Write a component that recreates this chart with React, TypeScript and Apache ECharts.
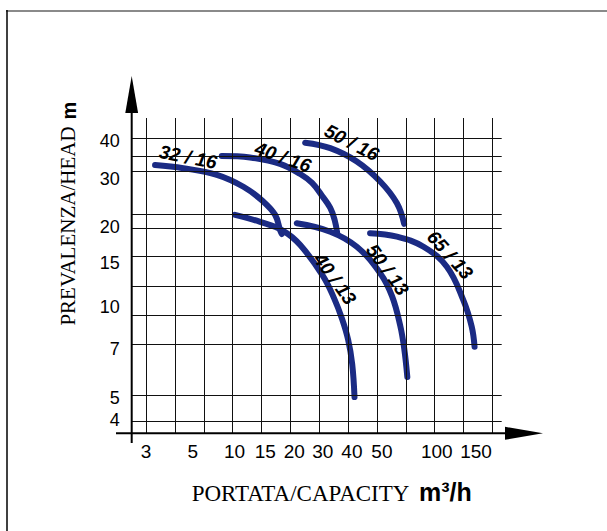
import React, { useEffect, useRef } from "react";
import * as echarts from "echarts";

// Grid-unit coordinates: x = one vertical grid cell per unit, y = one row (29px) per unit
const X_GRID_LINES = [0, 1, 2, 3, 4, 5, 6, 7, 8, 9, 10, 11, 12];
const Y_GRID_LINES = [0.4, 1.3, 3.08, 4.08, 5.08, 6.09, 7.07, 7.55, 9.04, 9.54, 10.17];

const X_TICK_LABELS = ["3", "5", "10", "15", "20", "30", "40", "50", "100", "150"];
const X_TICK_POS = [0, 1.62, 3.06, 4.13, 5.13, 6.12, 7.13, 8.17, 10.07, 11.43];
const Y_TICK_LABELS = ["4", "5", "7", "10", "15", "20", "30", "40"];
const Y_TICK_POS = [0.46, 1.2, 2.91, 4.37, 5.87, 7.12, 8.77, 10.06];

const CURVE_NAMES = ["32 / 16", "40 / 16", "50 / 16", "40 / 13", "50 / 13", "65 / 13"];
const curve32_16 = [[0.31, 9.25], [1.29, 9.14], [2.45, 8.91], [3.37, 8.5], [4.06, 7.99], [4.47, 7.53], [4.64, 7.01], [4.7, 6.87]];
const curve40_16 = [[2.62, 9.56], [3.6, 9.51], [4.64, 9.29], [5.34, 8.94], [5.75, 8.63], [6.1, 8.18], [6.38, 7.77], [6.53, 7.36], [6.62, 6.91]];
const curve50_16 = [[5.51, 10.02], [6.38, 9.83], [7.3, 9.37], [8.11, 8.68], [8.69, 7.93], [8.94, 7.22]];
const curve40_13 = [[3.08, 7.53], [3.95, 7.29], [4.75, 6.98], [5.34, 6.49], [6.13, 5.42], [6.51, 4.66], [6.79, 3.94], [7.0, 3.22], [7.14, 2.39], [7.22, 1.25]];
const curve50_13 = [[5.22, 7.24], [6.38, 6.95], [7.3, 6.43], [8.11, 5.52], [8.52, 4.73], [8.8, 3.73], [8.94, 2.94], [9.05, 1.94]];
const curve65_13 = [[7.76, 6.9], [8.69, 6.78], [9.61, 6.43], [10.42, 5.74], [10.99, 4.59], [11.28, 3.68], [11.38, 2.98]];
const CURVES = [curve32_16, curve40_16, curve50_16, curve40_13, curve50_13, curve65_13];

// label layout (pixels, degrees)
const LABEL_LAYOUT = [
  { x: 188, y: 157, deg: -11 },
  { x: 283, y: 157, deg: -19 },
  { x: 351.7, y: 142.5, deg: -27 },
  { x: 335, y: 279, deg: -54 },
  { x: 387.5, y: 269.6, deg: -54 },
  { x: 450, y: 255, deg: -48 },
];

const NAVY = "#1b2b84";
const SANS = "'Liberation Sans', Arial, Helvetica, sans-serif";
const SERIF = "'Liberation Serif', 'Times New Roman', serif";

function lookup(pos: number[], labels: string[], v: number) {
  const i = pos.findIndex((p) => Math.abs(p - v) < 1e-6);
  return i >= 0 ? labels[i] : "";
}

export default function App() {
  const ref = useRef<HTMLDivElement>(null);
  useEffect(() => {
    if (!ref.current) return;
    const chart = echarts.init(ref.current, null, { renderer: "svg" });
    const D = Math.PI / 180;
    // split y labels over two overlapping axes so close labels are not auto-hidden
    const yPosA = Y_TICK_POS.filter((_, i) => i % 2 === 1);
    const yPosB = Y_TICK_POS.filter((_, i) => i % 2 === 0);
    const yAxisBase = (custom: number[]) => ({
      type: "value",
      position: "left",
      offset: 0,
      min: 0,
      max: 10.87,
      axisLine: { show: false },
      axisTick: { show: false },
      splitLine: { show: false },
      axisLabel: {
        customValues: custom,
        formatter: (v: number) => lookup(Y_TICK_POS, Y_TICK_LABELS, v),
        fontSize: 18,
        lineHeight: 18,
        color: "#000",
        fontFamily: SANS,
        margin: 12,
        hideOverlap: false,
        showMinLabel: true,
        showMaxLabel: true,
      },
    });
    const option: any = {
      animation: false,
      backgroundColor: "#fff",
      grid: { left: 131.7, top: 118, right: 105.3, bottom: 97.7, containLabel: false, outerBoundsMode: "none" },
      xAxis: {
        type: "value",
        min: -0.5,
        max: 12.32,
        axisLine: { show: false },
        axisTick: { show: false },
        splitLine: { show: false },
        axisLabel: {
          customValues: X_TICK_POS,
          formatter: (v: number) => lookup(X_TICK_POS, X_TICK_LABELS, v),
          fontSize: 19,
          color: "#000",
          fontFamily: SANS,
          margin: 9,
          hideOverlap: false,
        },
      },
      yAxis: [yAxisBase(yPosA), yAxisBase(yPosB)],
      series: [
        {
          type: "line",
          data: [],
          silent: true,
          z: 1,
          markLine: {
            silent: true,
            symbol: ["none", "none"],
            label: { show: false },
            emphasis: { disabled: true },
            lineStyle: { color: "#111", width: 1, type: "solid" },
            data: [
              ...X_GRID_LINES.map((v) => ({ xAxis: v })),
              ...Y_GRID_LINES.map((v) => ({ yAxis: v })),
            ],
          },
        },
        ...CURVES.map((d, i) => ({
          type: "line",
          name: CURVE_NAMES[i],
          data: d,
          smooth: 0.4,
          showSymbol: false,
          silent: true,
          z: 3,
          lineStyle: { color: NAVY, width: 6, cap: "round", join: "round" },
        })),
      ],
      graphic: [
        { type: "line", z: 50, shape: { x1: 6, y1: 11, x2: 607, y2: 11 }, style: { stroke: "#8a8a8a", lineWidth: 2 } },
        { type: "line", z: 50, shape: { x1: 7, y1: 10, x2: 7, y2: 531 }, style: { stroke: "#000", lineWidth: 1.5 } },
        { type: "line", z: 50, shape: { x1: 131.7, y1: 443, x2: 131.7, y2: 110 }, style: { stroke: "#000", lineWidth: 2 } },
        { type: "polygon", z: 50, shape: { points: [[131.7, 76], [125.3, 113], [138.1, 113]] }, style: { fill: "#000" } },
        { type: "line", z: 50, shape: { x1: 116, y1: 433.3, x2: 508, y2: 433.3 }, style: { stroke: "#000", lineWidth: 2 } },
        { type: "polygon", z: 50, shape: { points: [[543, 433.3], [505, 426.8], [505, 439.8]] }, style: { fill: "#000" } },
        {
          type: "text", z: 50, x: 191.7, y: 493.5,
          style: { text: "PORTATA/CAPACITY", fontFamily: SERIF, fontSize: 23, fill: "#000", align: "left", verticalAlign: "middle" },
        },
        {
          type: "text", z: 50, x: 419, y: 492,
          style: { text: "m³/h", fontFamily: SANS, fontWeight: "bold", fontSize: 25, fill: "#000", align: "left", verticalAlign: "middle" },
        },
        {
          type: "text", z: 50, x: 68, y: 226, rotation: Math.PI / 2,
          style: { text: "PREVALENZA/HEAD", fontFamily: SERIF, fontSize: 21, fill: "#000", align: "center", verticalAlign: "middle" },
        },
        {
          type: "text", z: 50, x: 68.5, y: 110.5, rotation: Math.PI / 2,
          style: { text: "m", fontFamily: SANS, fontWeight: "bold", fontSize: 20, fill: "#000", align: "center", verticalAlign: "middle" },
        },
        ...LABEL_LAYOUT.map((l, i) => ({
          type: "text", z: 60, x: l.x, y: l.y, rotation: l.deg * D,
          style: {
            text: CURVE_NAMES[i], fontFamily: SANS, fontWeight: "bold", fontStyle: "italic", fontSize: 19,
            fill: "#000", align: "center", verticalAlign: "middle",
          },
        })),
      ],
    };
    chart.setOption(option);
    return () => chart.dispose();
  }, []);
  return <div ref={ref} style={{ position: "absolute", left: 0, top: 0, width: 607, height: 531, background: "#fff" }} />;
}
